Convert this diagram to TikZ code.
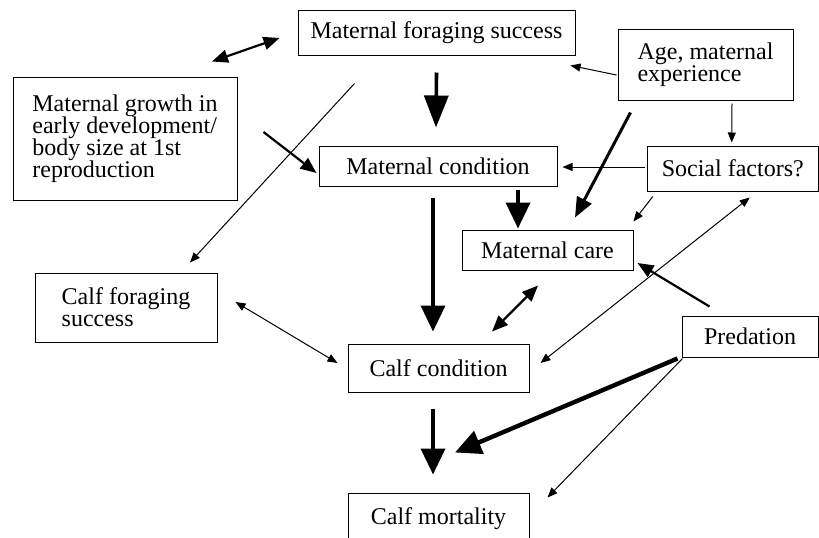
\documentclass[tikz,border=0pt]{standalone}
\usepackage{fontspec}
\setmainfont{Liberation Serif}
\usetikzlibrary{arrows.meta,calc}

\tikzset{
  thintip/.tip={Triangle[length=5pt,width=4pt]},
  medtip/.tip={Triangle[length=8pt,width=6.5pt]},
  bigtip/.tip={Triangle[length=13pt,width=12pt]},
}

\begin{document}
\begin{tikzpicture}[x=0.5pt, y=-0.5pt,
  every node/.style={font=\fontsize{12}{11}\selectfont},
  box/.style={draw, line width=0.5pt, inner sep=0pt, align=left},
  thinline/.style={line width=0.5pt, -{thintip}},
  medline/.style={line width=1.1pt, -{medtip}},
  thickline/.style={line width=1.8pt, -{bigtip}}]
  \useasboundingbox (0,0) rectangle (819,537);

  \node[box, minimum width=138.5pt, minimum height=22.5pt] (mfs) at (436.5,32.5) {Maternal foraging success};
  \node[box, minimum width=87.5pt, minimum height=35.5pt] (age) at (705.5,64.5) {Age, maternal\\experience};
  \node[box, minimum width=112pt, minimum height=61.5pt] (grow) at (125,138.5)
    {Maternal growth in\\early development/\\body size at 1st\\reproduction};
  \node[box, minimum width=119pt, minimum height=20pt] (mcond) at (438,166) {Maternal condition};
  \node[box, minimum width=85.5pt, minimum height=22.5pt] (social) at (732.75,168.5) {Social factors?};
  \node[box, minimum width=85.5pt, minimum height=20pt] (mcare) at (547.5,250) {Maternal care};
  \node[box, minimum width=91pt, minimum height=34.5pt] (cfor) at (126,307.5) {Calf foraging\\success};
  \node[box, minimum width=90.5pt, minimum height=24pt] (ccond) at (438.5,368) {Calf condition};
  \node[box, minimum width=68pt, minimum height=20.5pt] (pred) at (750,336.5) {Predation};
  \node[box, minimum width=90.5pt, minimum height=26pt] (cmort) at (438.5,519) {Calf mortality};

  \draw[medline, {medtip}-{medtip}] ($(grow.north)+(87,-15)$) -- ($(mfs.west)+(-18,5.5)$);
  \draw[thickline, -{Triangle[length=16pt,width=12pt]}] ($(mfs.south)+(0,17)$) -- ($(mcond.north)+(-2,-18)$);
  \draw[thinline] ($(age.west)+(-1,10.5)$) -- ($(mfs.south east)+(-5,10)$);
  \draw[thinline] ($(mfs.south west)+(57,28)$) -- ($(cfor.north)+(64,-10)$);
  \draw[medline] ($(grow.east)+(26,-6.5)$) -- ($(mcond.west)+(-2,7)$);
  \draw[thinline] ($(age.south)+(26.5,3)$) -- ($(social.north)+(-1,-3)$);
  \draw[line width=1.5pt, -{Triangle[length=10pt,width=8pt]}] ($(age.south west)+(13,12)$) -- ($(mcare.north)+(27.5,-12)$);
  \draw[thinline] ($(social.west)+(-2,-1.5)$) -- ($(mcond.east)+(5,1)$);
  \draw[thickline] ($(mcond.south)+(80,3)$) -- ($(mcare.north)+(-29.5,-1)$);
  \draw[thickline] ($(mcond.south)+(-5,11)$) -- ($(ccond.north)+(-5.5,-12)$);
  \draw[thinline] ($(social.south west)+(6,5)$) -- ($(mcare.north east)+(0,-8)$);
  \draw[thinline, {thintip}-{thintip}] ($(ccond.east)+(11,-5)$) -- ($(social.south)+(17,6)$);
  \draw[medline] ($(pred.north west)+(28,-9)$) -- ($(mcare.east)+(4,13)$);
  \draw[medline, {medtip}-{medtip}] ($(ccond.north)+(53.5,-12)$) -- ($(mcare.south)+(-9.5,15)$);
  \draw[thinline, {thintip}-{thintip}] ($(cfor.east)+(18,-5.5)$) -- ($(ccond.west)+(-10,-5)$);
  \draw[thickline] ($(ccond.south)+(-5.5,16)$) -- ($(cmort.north)+(-5.5,-18)$);
  \draw[thickline, line width=2.2pt] ($(pred.south west)+(-4,1)$) -- ($(cmort.north)+(16.5,-40)$);
  \draw[thinline] ($(pred.south west)+(1,1)$) -- ($(cmort.north east)+(18,5)$);
\end{tikzpicture}
\end{document}
